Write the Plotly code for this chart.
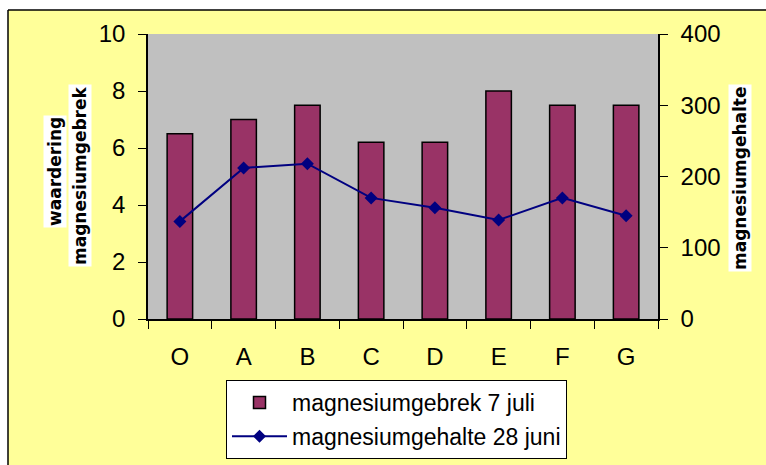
import plotly.graph_objects as go

categories = ["O", "A", "B", "C", "D", "E", "F", "G"]
gebrek_7_juli = [6.5, 7.0, 7.5, 6.2, 6.2, 8.0, 7.5, 7.5]
gehalte_28_juni = [137, 212, 218, 170, 156, 139, 170, 145]
left_ticks = [0, 2, 4, 6, 8, 10]
right_ticks = [0, 100, 200, 300, 400]

FONT = "Liberation Sans, Arial, sans-serif"
L, R, T, B = 148, 108, 34, 146
W, H = 766, 465
pw, ph = W - L - R, H - T - B

def px(x):
    return (x - L) / pw

def py(y):
    return (H - B - y) / ph

fig = go.Figure()
fig.add_trace(go.Bar(
    x=categories, y=gebrek_7_juli, name="magnesiumgebrek 7 juli",
    marker=dict(color="#993366", line=dict(color="black", width=1.5)),
    yaxis="y", legendgroup="a",
))
fig.add_trace(go.Scatter(
    x=categories, y=gehalte_28_juni, name="magnesiumgehalte 28 juni",
    mode="lines+markers", line=dict(color="#000080", width=2),
    marker=dict(symbol="diamond", size=10, color="#000080"),
    yaxis="y2", legendgroup="b",
))

shapes = [
    dict(type="rect", xref="paper", yref="paper", x0=-1, x1=px(8), y0=-1, y1=2,
         fillcolor="white", line=dict(width=0), layer="below"),
    dict(type="rect", xref="paper", yref="paper", x0=-1, x1=2, y0=py(10), y1=2,
         fillcolor="white", line=dict(width=0), layer="below"),
    dict(type="line", xref="paper", yref="paper", x0=px(8), x1=px(8), y0=-1, y1=py(10),
         line=dict(color="black", width=1.5)),
    dict(type="line", xref="paper", yref="paper", x0=px(8), x1=2, y0=py(10), y1=py(10),
         line=dict(color="black", width=1.5)),
]

title_font = dict(family="DejaVu Sans, sans-serif", size=17, color="black", weight="bold")
annotations = [
    dict(text="<b>waardering</b>", xref="paper", yref="paper", x=px(55), y=py(172),
         xanchor="center", yanchor="middle", textangle=-90, showarrow=False,
         bgcolor="white", borderpad=1, font=title_font),
    dict(text="<b>magnesiumgebrek</b>", xref="paper", yref="paper", x=px(80), y=py(176),
         xanchor="center", yanchor="middle", textangle=-90, showarrow=False,
         bgcolor="white", borderpad=1, font=title_font),
    dict(text="<b>magnesiumgehalte</b>", xref="paper", yref="paper", x=px(740), y=py(178),
         xanchor="center", yanchor="middle", textangle=-90, showarrow=False,
         bgcolor="white", borderpad=1, font=title_font),
]

fig.update_layout(
    width=W, height=H,
    margin=dict(l=L, r=R, t=T, b=B, autoexpand=False),
    paper_bgcolor="#FFFF99",
    plot_bgcolor="#C0C0C0",
    font=dict(family=FONT, size=24, color="black"),
    bargap=0.6,
    showlegend=True,
    legend=dict(
        x=px(226), y=py(380), xanchor="left", yanchor="top",
        bgcolor="white", bordercolor="black", borderwidth=1,
        font=dict(family=FONT, size=23, color="black"),
        itemwidth=55, traceorder="grouped", tracegroupgap=1,
        entrywidth=312, entrywidthmode="pixels",
    ),
    xaxis=dict(
        showline=True, linecolor="black", linewidth=1.5,
        ticks="outside", ticklen=8, tickcolor="black", tickson="boundaries",
        showgrid=False, ticklabelstandoff=15,
        tickfont=dict(family=FONT, size=24),
    ),
    yaxis=dict(
        range=[0, 10], tickvals=left_ticks,
        showline=True, linecolor="black", linewidth=1.5,
        ticks="outside", ticklen=8, tickcolor="black",
        showgrid=False, zeroline=False, ticklabelstandoff=8,
        tickfont=dict(family=FONT, size=24),
    ),
    yaxis2=dict(
        range=[0, 400], tickvals=right_ticks, overlaying="y", side="right",
        showline=True, linecolor="black", linewidth=1.5,
        ticks="outside", ticklen=8, tickcolor="black",
        showgrid=False, zeroline=False, ticklabelstandoff=8,
        tickfont=dict(family=FONT, size=24),
    ),
    shapes=shapes,
    annotations=annotations,
)

fig.write_html("out.html", config={"displayModeBar": False},
               post_script="document.body.style.margin='0';")
